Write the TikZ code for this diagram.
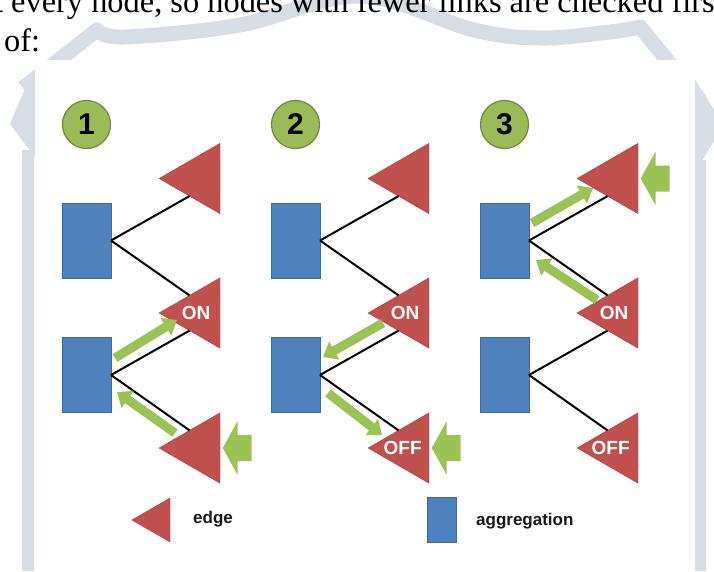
\documentclass[tikz,border=0pt]{standalone}
\usepackage{fontspec}
\setmainfont{Liberation Serif}
\setsansfont{Liberation Sans}
\usetikzlibrary{shapes.geometric,arrows.meta,calc}

\definecolor{aggblue}{HTML}{4F81BD}
\definecolor{aggborder}{HTML}{3C6AA5}
\definecolor{edgered}{HTML}{C0504D}
\definecolor{stagegreen}{HTML}{9BBB59}
\definecolor{stagegreendark}{HTML}{71893F}
\definecolor{flowgreen}{HTML}{9BC255}
\definecolor{wmgray}{RGB}{214,221,228}

\tikzset{
  agg/.style={rectangle, fill=aggblue, draw=aggborder, line width=0.6pt,
    minimum width=49pt, minimum height=75pt, inner sep=0pt, outer sep=0pt},
  edgetri/.style={regular polygon, regular polygon sides=3, shape border rotate=90,
    fill=edgered, draw=edgered!85!black, line width=0.4pt,
    minimum size=81.3pt, inner sep=0pt, outer sep=0pt},
  stagenum/.style={circle, fill=stagegreen, draw=stagegreendark, line width=1.2pt,
    minimum size=48pt, inner sep=0pt,
    font=\sffamily\bfseries\fontsize{30}{30}\selectfont},
  link/.style={line width=2pt, black},
  flow/.style={draw=flowgreen, line width=9pt, -{Triangle[width=20pt,length=13pt]}},
  statelbl/.style={text=white, inner sep=0pt,
    font=\sffamily\bfseries\fontsize{19}{19}\selectfont},
  legendtxt/.style={anchor=west, inner sep=0pt, text=black!90,
    font=\sffamily\bfseries\fontsize{17}{17}\selectfont},
}

% left-pointing block arrow placed to the right of an edge triangle
\newcommand\pusharrow[1]{%
  \fill[flowgreen, shift={(#1.center)}]
    (23,0) -- (38,-27) -- (38,-13) -- (52,-13) -- (52,13) -- (38,13) -- (38,27) -- cycle;}

\begin{document}
\begin{tikzpicture}[x=1pt,y=-1pt]
\useasboundingbox (0,0) rectangle (714,571);
\clip (0,0) rectangle (714,571);

% faint background mark
\fill[wmgray] (26,86) -- (10,124) -- (40,164) -- (40,86) -- cycle;
\draw[wmgray, line width=12pt] (28,150) -- (28,571);
\draw[wmgray, line width=15pt, line join=round]
  (23,88) -- plot[smooth, tension=0.6] coordinates
  {(97,30) (125,37) (240,25) (360,-4) (474,30) (541,38) (610,32) (640,27)}
  -- (700,100);
\fill[wmgray] (690,72) -- (724,125) -- (690,180) -- cycle;
\draw[wmgray, line width=12pt] (700,160) -- (700,571);

% running text above the figure
\node[anchor=base west, inner sep=0pt, font=\fontsize{32.4}{38}\selectfont] (txa) at (-6.1,12)
  {t every node, so nodes with fewer links are checked firs};
\node[anchor=base west, inner sep=0pt, font=\fontsize{32.4}{38}\selectfont] (txb) at (4,51) {of:};

% figure background
\fill[white] (35,60) rectangle (695,571);

% the three stages
\foreach \p/\dx in {1/0,2/209,3/418} {
  \node[stagenum] (n\p) at (86.5+\dx,124.5) {\p};
  \node[agg] (ra\p) at (86.5+\dx,240.5) {};
  \node[agg] (rb\p) at (86.5+\dx,375) {};
  \node[edgetri] (ta\p) at (199.7+\dx,178.5) {};
  \node[edgetri] (tb\p) at (199.7+\dx,313) {};
  \node[edgetri] (tc\p) at (199.7+\dx,448) {};
  \draw[link] (ra\p.east) -- (ta\p.240);
  \draw[link] (ra\p.east) -- (tb\p.120);
  \draw[link] (rb\p.east) -- (tb\p.240);
  \draw[link] (rb\p.east) -- (tc\p.120);
  \node[statelbl] (on\p) at ($(tb\p.center)+(-3.5,0)$) {ON};
}
\node[statelbl] (off2) at ($(tc2.center)+(-6,0)$) {OFF};
\node[statelbl] (off3) at ($(tc3.center)+(-7,0)$) {OFF};

% stage 1 traffic
\coordinate (f1s) at (115,358);  \coordinate (f1e) at (177,320);
\coordinate (f2s) at (175,433);  \coordinate (f2e) at (117,392);
\draw[flow] (f1s) -- (f1e);
\draw[flow] (f2s) -- (f2e);
\pusharrow{tc1}

% stage 2 traffic
\coordinate (f3s) at (383,323);  \coordinate (f3e) at (323,357);
\coordinate (f4s) at (328,393);  \coordinate (f4e) at (382,435);
\draw[flow] (f3s) -- (f3e);
\draw[flow] (f4s) -- (f4e);
\pusharrow{tc2}

% stage 3 traffic
\coordinate (f5s) at (532,223);  \coordinate (f5e) at (593,188);
\coordinate (f6s) at (597,300);  \coordinate (f6e) at (536,260);
\draw[flow] (f5s) -- (f5e);
\draw[flow] (f6s) -- (f6e);
\pusharrow{ta3}

% legend
\node[edgetri, minimum size=50.8pt] (lgtri) at (157.3,520) {};
\node[legendtxt] (lgedge) at (193,519) {edge};
\node[agg, minimum width=29pt, minimum height=45pt] (lgrect) at (441.5,519.5) {};
\node[legendtxt] (lgagg) at (476,521) {aggregation};
\end{tikzpicture}
\end{document}
